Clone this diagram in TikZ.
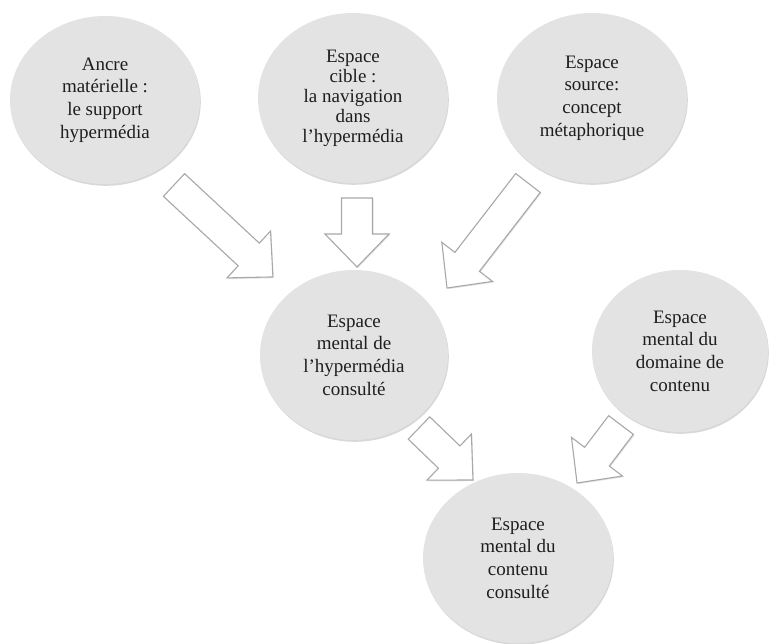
\documentclass[tikz,border=0pt]{standalone}
\usepackage{fontspec}
\setmainfont{Liberation Serif}
\usetikzlibrary{shapes.geometric,shadows,calc}
\definecolor{bubblefill}{HTML}{E3E3E3}
\definecolor{arrowline}{HTML}{A8A8A8}
\definecolor{txt}{HTML}{1E1E1E}
\tikzset{
  bubble/.style={ellipse, minimum width=190pt, minimum height=168pt, inner sep=0pt,
    fill=bubblefill, align=center, text=txt,
    font=\fontsize{19}{22.7}\selectfont,
    drop shadow={shadow xshift=0.8pt, shadow yshift=-1.8pt, opacity=0.28, fill=black!55}},
  blockarrow/.style={draw=arrowline, fill=white, line width=1.1pt, line join=miter,
    drop shadow={shadow xshift=0.8pt, shadow yshift=-1.2pt, opacity=0.22, fill=black!50}}
}
\newcommand\blockarr[2]{%
  \path[blockarrow] let \p1=(#1), \p2=(#2),
      \n1={atan2(\y2-\y1,\x2-\x1)}, \n2={veclen(\x2-\x1,\y2-\y1)} in
    [shift={(\p1)}, rotate=\n1]
    (0,-15.5) -- ({\n2-33},-15.5) -- ({\n2-33},-32) -- ({\n2},0) --
    ({\n2-33},32) -- ({\n2-33},15.5) -- (0,15.5) -- cycle;}
\begin{document}
\begin{tikzpicture}[x=1pt,y=-1pt]
\useasboundingbox (0,0) rectangle (771,643);
\fill[white] (0,0) rectangle (771,643);
% bubbles
\node[bubble] (c1) at (105,100) {Ancre\\matérielle :\\le support\\hypermédia};
\node[bubble, minimum height=170pt, font=\fontsize{19}{20}\selectfont] (c2) at (353,98) {Espace\\cible :\\la navigation\\dans\\l’hypermédia};
\node[bubble, minimum height=170pt] (c3) at (592,98) {Espace\\source:\\concept\\métaphorique};
\node[bubble, minimum width=188pt, minimum height=170pt] (c4) at (354,355) {Espace\\mental de\\l’hypermédia\\consulté};
\node[bubble, minimum width=176pt, minimum height=162pt] (c5) at (680,351) {Espace\\mental du\\domaine de\\contenu};
\node[bubble, minimum height=170pt] (c6) at (518,558) {Espace\\mental du\\contenu\\consulté};
% arrow ends
\coordinate (a1s) at (174,185); \coordinate (a1e) at (273,277);
\coordinate (a2s) at (357,198); \coordinate (a2e) at (357,267);
\coordinate (a3s) at (528,183); \coordinate (a3e) at (447,288);
\coordinate (a4s) at (419,428); \coordinate (a4e) at (473,480);
\coordinate (a5s) at (621,425); \coordinate (a5e) at (577,483);
\blockarr{a1s}{a1e}
\blockarr{a2s}{a2e}
\blockarr{a3s}{a3e}
\blockarr{a4s}{a4e}
\blockarr{a5s}{a5e}
\end{tikzpicture}
\end{document}
